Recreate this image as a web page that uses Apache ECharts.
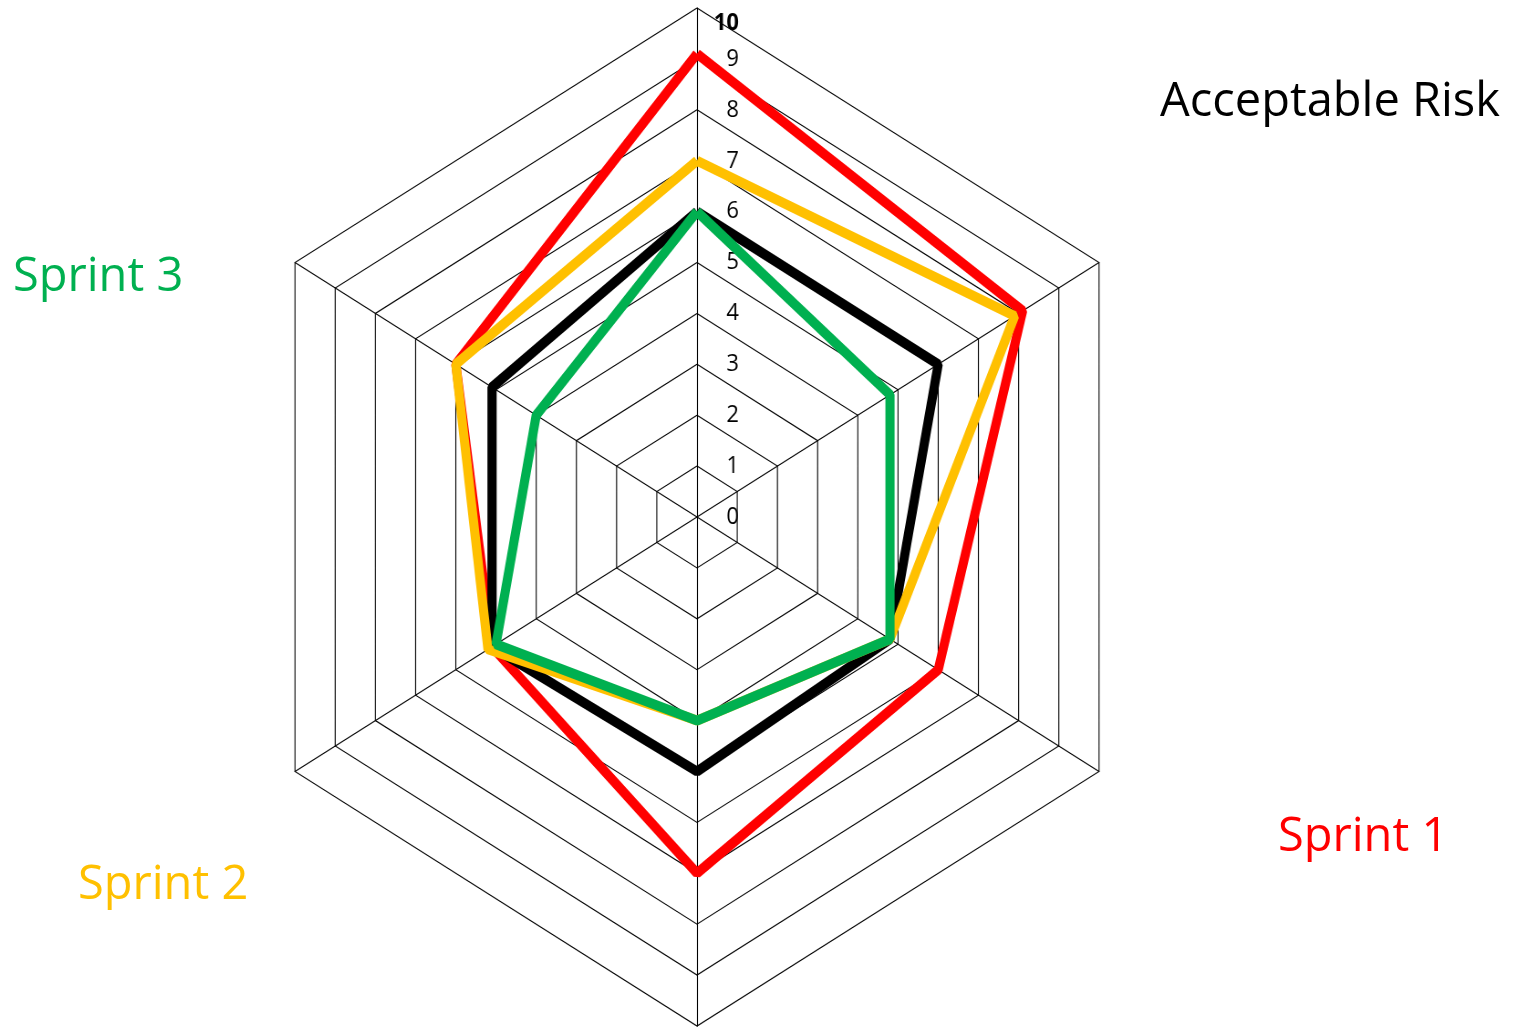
<!DOCTYPE html>
<html>
<head>
<meta charset="utf-8">
<script src="https://cdn.jsdelivr.net/npm/echarts@6/dist/echarts.min.js"></script>
<style>
html, body { margin: 0; padding: 0; background: #fff; }
#wrap { position: relative; width: 1519px; height: 1027px; overflow: hidden; }
#radar, #labels { position: absolute; left: 0; top: 0; width: 1519px; height: 1027px; }
/* the source hexagon is narrower than a regular one */
#radar { transform: scaleX(0.912); transform-origin: 697px 517px; }
</style>
</head>
<body>
<div id="wrap"><div id="radar"></div><div id="labels"></div></div>
<script>
// axes in echarts order: top, then counter-clockwise
var axes = ['A', 'B', 'C', 'D', 'E', 'F'];
var tickLabels = ['0', '1', '2', '3', '4', '5', '6', '7', '8', '9', '10'];

var sprint1 = [9.1, 6, 5.1, 7, 6, 8.1];
var acceptableRisk = [6, 5.1, 5.1, 5, 4.8, 6];
var sprint2 = [7, 6, 5.2, 4, 4.8, 7.9];
var sprint3 = [6, 4, 5, 4, 4.8, 4.8];

var FONT = '"Open Sans", "Noto Sans", sans-serif';

var indicators = axes.map(function(n, i) {
	var ind = { name: n, min: 0, max: 10 };
	if (i === 0) {
		ind.axisLabel = {
			show: true,
			color: '#000',
			fontSize: 24,
			fontFamily: FONT,
			margin: -46,
			formatter: function(v) {
				var t = tickLabels[Math.round(v)];
				if (t === '10') return '{top|' + t + '}';
				if (t === '0') return '{zero|' + t + '}';
				return t;
			},
			rich: {
				top: { fontSize: 24, fontFamily: FONT, fontWeight: 'bold', color: '#000', padding: [30, 0, 0, 0] },
				zero: { fontSize: 24, fontFamily: FONT, color: '#000', padding: [0, 0, 0, 0], width: 1 }
			}
		};
	}
	return ind;
});

var radarChart = echarts.init(document.getElementById('radar'));
radarChart.setOption({
	animation: false,
	radar: {
		center: [697, 517],
		radius: 509,
		startAngle: 90,
		splitNumber: 10,
		shape: 'polygon',
		indicator: indicators,
		axisName: { show: false },
		splitArea: { show: false },
		splitLine: { lineStyle: { color: '#000', width: 1.1 } },
		axisLine: { lineStyle: { color: '#000', width: 1.1 } },
		axisTick: { show: false },
		axisLabel: { show: false }
	},
	series: [{
		type: 'radar',
		symbol: 'none',
		silent: true,
		data: [
			{ name: 'Sprint 1', value: sprint1, lineStyle: { color: '#FF0000', width: 10, join: 'bevel' } },
			{ name: 'Acceptable Risk', value: acceptableRisk, lineStyle: { color: '#000000', width: 10, join: 'bevel' } },
			{ name: 'Sprint 2', value: sprint2, lineStyle: { color: '#FFC000', width: 10, join: 'bevel' } },
			{ name: 'Sprint 3', value: sprint3, lineStyle: { color: '#00B050', width: 10, join: 'bevel' } }
		]
	}]
});

// series names placed as free text, like the source
var labelChart = echarts.init(document.getElementById('labels'));
function txt(s, x, y, color) {
	return {
		type: 'text', left: x, top: y,
		style: { text: s, fill: color, font: '47px ' + FONT, textVerticalAlign: 'middle' }
	};
}
labelChart.setOption({
	animation: false,
	graphic: [
		txt('Acceptable Risk', 1160, 79, '#000000'),
		txt('Sprint 3', 13, 254, '#00B050'),
		txt('Sprint 1', 1278, 814, '#FF0000'),
		txt('Sprint 2', 78, 862, '#FFC000')
	]
});
</script>
</body>
</html>
